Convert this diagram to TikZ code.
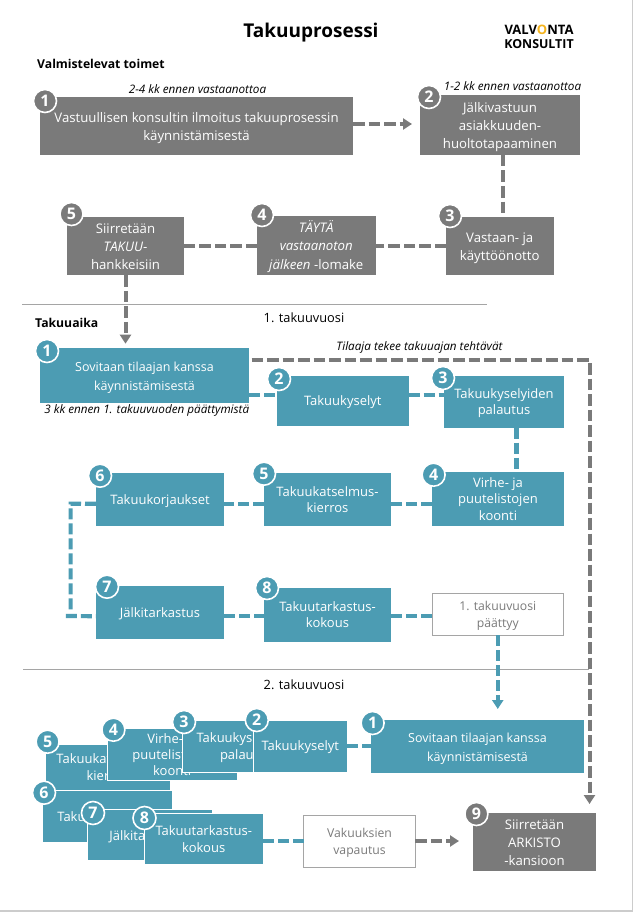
\documentclass[tikz,border=0pt]{standalone}
\usepackage{fontspec}
\setmainfont{Open Sans}
\usetikzlibrary{arrows.meta}
\definecolor{boxgray}{RGB}{122,122,122}
\definecolor{boxteal}{RGB}{76,156,179}
\definecolor{sunyellow}{RGB}{245,180,30}
\definecolor{rulegray}{RGB}{165,165,165}
\newcommand{\bx}[7]{%
  \pgfmathsetmacro{\bxw}{#5-#3}\pgfmathsetmacro{\bxh}{#6-#4}%
  \pgfmathsetmacro{\bxcx}{(#3+#5)/2}\pgfmathsetmacro{\bxcy}{(#4+#6)/2}%
  \node[#1,minimum width=\bxw pt,minimum height=\bxh pt] (#2) at (\bxcx,\bxcy) {\rule{0pt}{.9\baselineskip}#7\strut};}
\tikzset{
  x=1pt,y=-1pt,
  basebox/.style={inner sep=0pt,outer sep=0pt,align=center,text=white},
  graybox/.style={basebox,fill=boxgray,font=\fontsize{13.2}{18.3}\selectfont},
  tealbox/.style={basebox,fill=boxteal,font=\fontsize{13}{16.3}\selectfont},
  tealwide/.style={tealbox,font=\fontsize{12.5}{19}\selectfont},
  stackbox/.style={tealbox,draw=white,line width=0.7pt},
  whitebox/.style={basebox,fill=white,draw=rulegray,line width=0.8pt,text=boxgray,font=\fontsize{12.2}{17.2}\selectfont},
  numgray/.style={circle,fill=boxgray,draw=white,line width=1.6pt,minimum size=23pt,inner sep=0pt,text=white,font=\fontsize{16}{16}\selectfont\bfseries},
  numteal/.style={numgray,fill=boxteal},
  graylink/.style={draw=boxgray,line width=4pt,dash pattern=on 11.5pt off 4pt},
  teallink/.style={draw=boxteal,line width=4.2pt,dash pattern=on 11pt off 4pt},
  tip/.style={-{Triangle[length=9pt,width=11pt]}},
  heading/.style={inner sep=0pt,font=\fontsize{12.2}{14}\selectfont\bfseries},
  plainlabel/.style={inner sep=0pt,font=\fontsize{12.8}{14}\selectfont},
  note/.style={inner sep=0pt,font=\fontsize{11.7}{13}\selectfont\itshape},
  sepline/.style={draw=rulegray,line width=0.8pt}
}
\begin{document}
\begin{tikzpicture}
\useasboundingbox (0,0) rectangle (633,912);
\fill[white] (0,0) rectangle (633,912);
\draw[draw=black!20,line width=1.2pt] (632.4,0) -- (632.4,911) -- (0,911);

% headings
\node[inner sep=0pt,font=\fontsize{19}{22}\selectfont\bfseries] (title) at (311,33) {Takuuprosessi};
\node[inner sep=0pt,font=\fontsize{13}{13}\selectfont\bfseries] (logoa) at (539,30) {VALV\textcolor{sunyellow}{O}NTA};
\node[inner sep=0pt,font=\fontsize{12.4}{13}\selectfont\bfseries] (logob) at (539,44.5) {KONSULTIT};
\node[heading,anchor=west] (hvalm) at (37,64) {Valmistelevat toimet};
\node[heading,anchor=west] (htaku) at (35,323) {Takuuaika};
\node[plainlabel] (y1) at (304,318) {1. takuuvuosi};
\node[plainlabel] (y2) at (304,684.7) {2. takuuvuosi};
\node[note] (n1) at (197.5,89) {2-4 kk ennen vastaanottoa};
\node[note] (n2) at (512.5,86) {1-2 kk ennen vastaanottoa};
\node[note] (n3) at (419.5,347) {Tilaaja tekee takuuajan tehtävät};
\node[note] (n4) at (146.8,410.7) {3 kk ennen 1. takuuvuoden päättymistä};

% separators
\coordinate (s1a) at (22,304.3); \coordinate (s1b) at (487,304.3);
\coordinate (s2a) at (23,669.3); \coordinate (s2b) at (589,669.3);
\draw[sepline] (s1a) -- (s1b);
\draw[sepline] (s2a) -- (s2b);

% preparatory boxes
\bx{graybox}{g1}{40}{97}{353}{155}{Vastuullisen konsultin ilmoitus takuuprosessin\\käynnistämisestä}
\bx{graybox}{g2}{420}{95}{580}{155}{Jälkivastuun\\asiakkuuden-\\huoltotapaaminen}
\bx{graybox}{g3}{446}{217}{553.5}{275}{Vastaan- ja\\käyttöönotto}
\bx{graybox}{g4}{257}{216}{375.5}{275}{\textit{TÄYTÄ}\\\textit{vastaanoton}\\\textit{jälkeen} -lomake}
\bx{graybox}{g5}{67}{217}{184}{275}{Siirretään\\\textit{TAKUU}-\\hankkeisiin}

% first warranty year
\bx{tealwide}{t1}{40}{348}{249}{402.7}{Sovitaan tilaajan kanssa\\käynnistämisestä}
\bx{tealbox}{t2}{277}{376}{408.5}{426}{Takuukyselyt}
\bx{tealbox}{t3}{444}{376}{564}{427.7}{Takuukyselyiden\\palautus}
\bx{tealbox}{t4}{432}{472}{564}{525.7}{Virhe- ja\\puutelistojen\\koonti}
\bx{tealbox}{t5}{264}{473}{391}{525.7}{Takuukatselmus-\\kierros}
\bx{tealbox}{t6}{96}{473}{224}{525.7}{Takuukorjaukset}
\bx{tealbox}{t7}{96}{586}{224}{639}{Jälkitarkastus}
\bx{tealbox}{t8}{264}{588}{391}{641.7}{Takuutarkastus-\\kokous}
\bx{whitebox}{te}{432}{593}{563.5}{635}{1. takuuvuosi\\päättyy}

% second warranty year
\bx{tealwide}{u1}{371}{720}{584}{772.7}{Sovitaan tilaajan kanssa\\käynnistämisestä}
\bx{stackbox}{u5}{45}{744}{170}{790}{Takuukatselmus-\\kierros}
\node[numteal] (nu5) at (47.6,741.7) {5};
\bx{stackbox}{u6}{42}{790.7}{172}{842.7}{Takuukorjaukset}
\node[numteal] (nu6) at (44,792.7) {6};
\bx{stackbox}{u7}{87}{809.7}{212}{860.7}{Jälkitarkastus}
\node[numteal] (nu7) at (93,813) {7};
\bx{stackbox}{u8}{144.5}{813.7}{263}{864.7}{Takuutarkastus-\\kokous}
\node[numteal] (nu8) at (144.5,818) {8};
\bx{stackbox}{u4}{107.4}{729}{237}{780}{Virhe- ja\\puutelistojen\\koonti}
\node[numteal] (nu4) at (113.4,729.7) {4};
\bx{stackbox}{u3}{182.5}{720}{310}{772}{Takuukyselyiden\\palautus}
\node[numteal] (nu3) at (184,722) {3};
\bx{stackbox}{u2}{253.5}{720}{347}{772}{Takuukyselyt}
\node[numteal] (nu2) at (256.8,720) {2};
\bx{whitebox}{uv}{303.6}{815}{415.4}{867}{Vakuuksien\\vapautus}
\bx{graybox}{g9}{473}{814}{596}{870}{Siirretään\\ARKISTO\\-kansioon}

% number badges
\node[numgray] (ng1) at (45,101) {1};
\node[numgray] (ng2) at (429,97) {2};
\node[numgray] (ng3) at (450,216) {3};
\node[numgray] (ng4) at (262,215) {4};
\node[numgray] (ng5) at (71.5,214) {5};
\node[numteal] (nt1) at (47,351) {1};
\node[numteal] (nt2) at (279,379) {2};
\node[numteal] (nt3) at (443,378) {3};
\node[numteal] (nt4) at (433.6,474.7) {4};
\node[numteal] (nt5) at (264,473.7) {5};
\node[numteal] (nt6) at (100,475.7) {6};
\node[numteal] (nt7) at (107,586.7) {7};
\node[numteal] (nt8) at (267,588) {8};
\node[numteal] (nu1) at (372.6,723) {1};
\node[numgray] (ng9) at (476.4,814) {9};

% gray connectors
\draw[graylink,tip] ([yshift=2pt]g1.east) -- ([yshift=2pt,xshift=-8pt]g1.east -| g2.west);
\draw[graylink] ([xshift=2.6pt]g2.south) -- ([xshift=2.6pt]g2.south |- g3.north);
\draw[graylink] (g3.west) -- (g3.west -| g4.east);
\draw[graylink] (g3.west -| g4.west) -- (g3.west -| g5.east);
\draw[graylink,tip] (g5.south) -- ([yshift=4.3pt]g5.south |- t1.north);
\coordinate (c19a) at (251.5,360);
\coordinate (c19b) at (589.5,360);
\coordinate (c19c) at (589.5,804);
\draw[graylink,tip] (c19a) -- (c19b) -- (c19c);
\draw[graylink,tip] (uv.east) -- ([xshift=-14pt]uv.east -| g9.west);

% teal connectors
\draw[teallink] ([yshift=6pt]t2.west -| t1.east) -- ([yshift=6pt]t2.west);
\draw[teallink] ([yshift=6pt]t2.east) -- ([yshift=6pt]t2.east -| t3.west);
\draw[teallink] ([xshift=12.4pt]t3.south) -- ([xshift=12.4pt]t3.south |- t4.north);
\draw[teallink] ([yshift=-4.4pt]t5.east -| t4.west) -- ([yshift=-4.4pt]t5.east);
\draw[teallink] ([yshift=-4.4pt]t5.west) -- ([yshift=-4.4pt]t6.east);
\coordinate (c67a) at (70.6,503.7);
\coordinate (c67b) at (70.6,611);
\coordinate (c67c) at (65.8,616);
\draw[teallink] ([yshift=-4.4pt]t6.west) -- (c67a) -- (c67b);
\draw[teallink] (c67c) -- ([yshift=-3.7pt]t7.west);
\draw[teallink] ([yshift=-3.7pt]t7.east) -- ([yshift=-3.7pt]t7.east -| t8.west);
\draw[teallink] ([yshift=-3.7pt]t7.east -| t8.east) -- ([yshift=-3.7pt]t7.east -| te.west);
\draw[teallink,tip] (te.south) -- ([yshift=11pt]te.south |- u1.north);
\draw[teallink] (u2.east) -- (u2.east -| u1.west);
\draw[teallink] (uv.west -| u8.east) -- (uv.west);
\end{tikzpicture}
\end{document}
